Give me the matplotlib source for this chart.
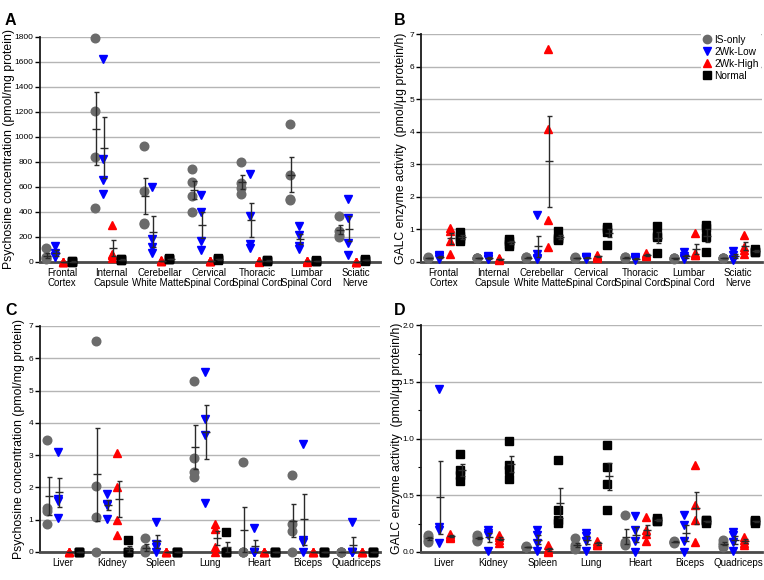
import numpy as np
import matplotlib.pyplot as plt

plt.rcParams['font.family'] = ['Liberation Sans', 'DejaVu Sans']

groups = ['IS-only', '2Wk-Low', '2Wk-High', 'Normal']
colors = ['#6b6b6b', '#0000ff', '#ff0000', '#000000']
markers = ['o', 'v', '^', 's']

cns = ['Frontal\nCortex', 'Internal\nCapsule', 'Cerebellar\nWhite Matter', 'Cervical\nSpinal Cord',
       'Thoracic\nSpinal Cord', 'Lumbar\nSpinal Cord', 'Sciatic\nNerve']
body = ['Liver', 'Kidney', 'Spleen', 'Lung', 'Heart', 'Biceps', 'Quadriceps']

# A: psychosine in CNS (pmol/mg protein), replicates per tissue
a_is = [[115, 40, 30, 20], [1790, 1210, 840, 430], [930, 565, 310, 305], [742, 643, 524, 399],
        [798, 635, 590, 545], [1101, 697, 505, 495], [370, 250, 215, 200]]
a_low = [[130, 40, 45, 75], [1627, 822, 657, 545], [600, 180, 120, 75], [537, 399, 165, 93],
         [705, 370, 144, 112], [285, 218, 125, 105], [503, 351, 152, 58]]
a_high = [[0, 0, 2, 0], [298, 58, 32, 60], [10, 5, 15, 8], [8, 5, 10, 6],
          [5, 3, 8, 5], [10, 5, 8, 3], [2, 0, 3, 0]]
a_norm = [[5, 3, 4, 2], [20, 15, 25, 18], [20, 25, 30, 22], [25, 20, 30, 15],
          [15, 10, 12, 8], [10, 8, 12, 6], [15, 10, 20, 12]]

# B: GALC activity in CNS (pmol/ug protein/h)
b_is = [[0.13, 0.12, 0.14, 0.13], [0.12, 0.13, 0.11, 0.12], [0.16, 0.12, 0.14, 0.13], [0.13, 0.12, 0.14, 0.12],
        [0.14, 0.13, 0.15, 0.12], [0.11, 0.12, 0.10, 0.11], [0.12, 0.11, 0.13, 0.12]]
b_low = [[0.22, 0.15, 0.10, 0.18], [0.18, 0.10, 0.08, 0.15], [1.45, 0.25, 0.12, 0.10], [0.16, 0.12, 0.10, 0.14],
         [0.15, 0.10, 0.05, 0.12], [0.32, 0.18, 0.12, 0.10], [0.33, 0.22, 0.10, 0.05]]
b_high = [[1.04, 0.96, 0.63, 0.26], [0.12, 0.08, 0.10, 0.05], [6.54, 4.09, 1.28, 0.45], [0.22, 0.16, 0.12, 0.18],
          [0.28, 0.22, 0.18, 0.20], [0.89, 0.28, 0.22, 0.20], [0.84, 0.45, 0.38, 0.25]]
b_norm = [[0.92, 0.80, 0.70, 0.65], [0.72, 0.65, 0.55, 0.50], [0.96, 0.73, 0.68, 0.70], [1.08, 1.0, 0.92, 0.53],
          [1.10, 0.82, 0.78, 0.28], [1.13, 1.05, 0.77, 0.30], [0.40, 0.35, 0.30, 0.32]]

# C: psychosine in peripheral tissues (pmol/mg protein)
c_is = [[3.47, 1.35, 1.28, 0.87], [6.54, 2.03, 1.07, 0], [0.43, 0.10, 0.02, 0], [5.30, 2.92, 2.47, 2.33],
        [2.78, 0, 0, 0], [2.37, 0.88, 0.65, 0], [0, 0, 0, 0]]
c_low = [[3.11, 1.65, 1.58, 1.05], [1.80, 1.50, 1.45, 1.03], [0.92, 0.25, 0.15, 0], [5.58, 4.11, 3.63, 1.53],
         [0.74, 0, 0, 0], [3.35, 0.38, 0.32, 0], [0.92, 0, 0, 0]]
c_high = [[0, 0, 0, 0], [3.07, 2.0, 1.0, 0.53], [0, 0, 0, 0], [0.875, 0.72, 0.15, 0],
          [0, 0, 0, 0], [0, 0, 0, 0], [0, 0, 0, 0]]
c_norm = [[0, 0, 0, 0], [0.38, 0, 0, 0], [0, 0, 0, 0], [0.62, 0, 0, 0],
          [0, 0, 0, 0], [0, 0, 0, 0], [0, 0, 0, 0]]

# D: GALC activity in peripheral tissues (pmol/ug protein/h)
d_is = [[0.15, 0.13, 0.11, 0.09], [0.15, 0.13, 0.11, 0.10], [0.04, 0.04, 0.05, 0.04], [0.12, 0.06, 0.04, 0.03],
        [0.325, 0.09, 0.07, 0.06], [0.10, 0.09, 0.09, 0.08], [0.11, 0.08, 0.06, 0.04]]
d_low = [[1.44, 0.22, 0.19, 0.08], [0.19, 0.17, 0.15, 0.01], [0.19, 0.15, 0.08, 0.01], [0.17, 0.14, 0.10, 0.01],
         [0.32, 0.19, 0.10, 0.0], [0.33, 0.24, 0.10, 0.0], [0.18, 0.15, 0.09, 0.01]]
d_high = [[0.16, 0.14, 0.13, 0.12], [0.15, 0.13, 0.11, 0.08], [0.06, 0.03, 0.01, 0.0], [0.10, 0.08, 0.06, 0.06],
          [0.31, 0.19, 0.16, 0.10], [0.77, 0.41, 0.28, 0.09], [0.13, 0.11, 0.08, 0.06]]
d_norm = [[0.865, 0.72, 0.68, 0.63], [0.98, 0.77, 0.72, 0.645], [0.815, 0.37, 0.28, 0.26], [0.947, 0.75, 0.60, 0.37],
          [0.30, 0.28, 0.27, 0.27], [0.28, 0.27, 0.26, 0.28], [0.28, 0.27, 0.26, 0.27]]

psy_label = 'Psychosine concentration (pmol/mg protein)'
galc_label = 'GALC enzyme activity  (pmol/\u03bcg protein/h)'


def draw_panel(ax, tissues, data, step, lab_off, ymax, ytick_step, ylabel, lab_x, fmt=None, minor=None):
    for j, series in enumerate(data):
        for i, vals in enumerate(series):
            x = i * step + j
            vals = np.array(vals, dtype=float)
            ax.plot(np.full(len(vals), x), vals, linestyle='none', marker=markers[j],
                    color=colors[j], markersize=6.2, clip_on=False, zorder=3)
            m = vals.mean()
            sem = vals.std(ddof=1) / np.sqrt(len(vals))
            ax.errorbar(x + 0.12, m, yerr=sem, fmt='none', ecolor='#2a2a2a', elinewidth=1,
                        capsize=1.8, capthick=1, zorder=4, clip_on=False)
            ax.plot(x + 0.12, m, marker='_', markersize=6, color='#2a2a2a', mew=1, zorder=4,
                    clip_on=False)
    n = len(tissues)
    ax.set_xlim(-0.68, (n - 1) * step + 3 + (1.75 if step > 5 else 0.68))
    ax.set_ylim(0, ymax)
    ticks = np.arange(0, ymax + ytick_step / 2, ytick_step)
    ax.set_yticks(ticks)
    if fmt:
        ax.set_yticklabels([fmt.format(t) for t in ticks])
    if minor:
        ax.set_yticks(np.arange(0, ymax + minor / 2, minor), minor=True)
        ax.tick_params(axis='y', which='minor', length=2.5, width=0.8)
    ax.set_xticks([i * step + lab_off for i in range(n)])
    ax.set_xticklabels(tissues, fontsize=7, linespacing=1.05)
    ax.tick_params(axis='x', length=0, pad=4)
    ax.tick_params(axis='y', length=3.5, width=1, labelsize=6, pad=1.5)
    ax.grid(axis='y', color='#b5b5b5', linewidth=1)
    ax.set_axisbelow(True)
    for s in ['top', 'right']:
        ax.spines[s].set_visible(False)
    ax.spines['left'].set_color('#1a1a1a')
    ax.spines['left'].set_linewidth(1.3)
    ax.spines['bottom'].set_color('#4a4a4a')
    ax.spines['bottom'].set_linewidth(2)
    ax.set_ylabel(ylabel, fontsize=8.8)
    ax.yaxis.set_label_coords(lab_x, 0.5)


fig = plt.figure(figsize=(7.64, 5.80), dpi=100)
axA = fig.add_axes([0.0524, 0.5483, 0.445, 0.388])
axB = fig.add_axes([0.551, 0.5483, 0.4463, 0.393])
axC = fig.add_axes([0.0524, 0.0483, 0.445, 0.3897])
axD = fig.add_axes([0.551, 0.0483, 0.4463, 0.391])

draw_panel(axA, cns, [a_is, a_low, a_high, a_norm], 5.67, 1.9, 1800, 200, psy_label, -0.075)
draw_panel(axB, cns, [b_is, b_low, b_high, b_norm], 4.6, 1.45, 7, 1, galc_label, -0.041)
draw_panel(axC, body, [c_is, c_low, c_high, c_norm], 4.6, 1.5, 7, 1, psy_label, -0.044)
draw_panel(axD, body, [d_is, d_low, d_high, d_norm], 4.6, 1.5, 2.0, 0.5, galc_label, -0.052,
           fmt='{:.1f}', minor=0.25)

for letter, (px, py) in zip('ABCD', [(5, 13), (394, 13), (5, 303), (394, 303)]):
    fig.text(px / 764, 1 - py / 580, letter, fontsize=11.5, fontweight='bold', va='top', ha='left')

handles = [plt.Line2D([], [], linestyle='none', marker=markers[j], color=colors[j], markersize=6)
           for j in range(4)]
leg = axB.legend(handles, groups, loc='upper left', bbox_to_anchor=(0.82, 1.005), fontsize=7.3,
                 handlelength=0.9, handletextpad=0.25, labelspacing=0.2, borderaxespad=0,
                 borderpad=0.2, frameon=True, fancybox=False)
leg.get_frame().set_facecolor('white')
leg.get_frame().set_edgecolor('none')
leg.get_frame().set_alpha(1)

fig.savefig('out.png', dpi=100)
